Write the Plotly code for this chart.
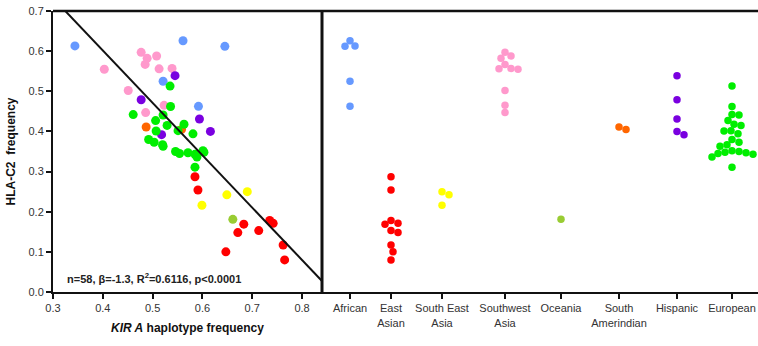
import numpy as np
import plotly.graph_objects as go

# ---------------- data ----------------
regions = ["African", "East Asian", "South East Asia", "Southwest Asia",
           "Oceania", "South Amerindian", "Hispanic", "European"]
region_labels = ["African", "East<br>Asian", "South East<br>Asia", "Southwest<br>Asia",
                 "Oceania", "South<br>Amerindian", "Hispanic", "European"]
region_colors = ["#6699FF", "#FF0000", "#FFFF00", "#FF99CC",
                 "#99CC33", "#FF6600", "#7A00E0", "#00EE00"]
# category centres on the right-hand axis (axis unit = 10 px)
region_pos = [2.8, 6.9, 12.0, 18.3, 23.9, 29.7, 35.5, 41.0]

kir_african = [0.561, 0.344, 0.645, 0.521, 0.592]
hla_african = [0.626, 0.613, 0.612, 0.525, 0.4625]

kir_east_asian = [0.585, 0.591, 0.735, 0.742, 0.683, 0.713, 0.671, 0.762, 0.647, 0.765]
hla_east_asian = [0.287, 0.254, 0.178, 0.171, 0.169, 0.153, 0.148, 0.117, 0.100, 0.080]

kir_se_asia = [0.649, 0.690, 0.599]
hla_se_asia = [0.242, 0.250, 0.216]

kir_sw_asia = [0.477, 0.489, 0.508, 0.485, 0.513, 0.539, 0.403, 0.451, 0.523, 0.486]
hla_sw_asia = [0.597, 0.582, 0.588, 0.567, 0.556, 0.557, 0.555, 0.502, 0.465, 0.447]

kir_oceania = [0.661]
hla_oceania = [0.181]

kir_s_amerindian = [0.487, 0.558]
hla_s_amerindian = [0.411, 0.405]

kir_hispanic = [0.545, 0.477, 0.594, 0.616, 0.518]
hla_hispanic = [0.539, 0.479, 0.431, 0.400, 0.392]

kir_european = [0.535, 0.536, 0.461, 0.521, 0.506, 0.563, 0.529, 0.551, 0.507, 0.581, 0.492,
                0.503, 0.520, 0.521, 0.546, 0.554, 0.571, 0.585, 0.601, 0.603, 0.589, 0.585]
hla_european = [0.513, 0.462, 0.442, 0.441, 0.427, 0.418, 0.415, 0.402, 0.401, 0.394, 0.380,
                0.373, 0.367, 0.363, 0.350, 0.345, 0.347, 0.343, 0.352, 0.348, 0.336, 0.311]

kir_all = [kir_african, kir_east_asian, kir_se_asia, kir_sw_asia,
           kir_oceania, kir_s_amerindian, kir_hispanic, kir_european]
hla_all = [hla_african, hla_east_asian, hla_se_asia, hla_sw_asia,
           hla_oceania, hla_s_amerindian, hla_hispanic, hla_european]

x_ticks = [0.3, 0.4, 0.5, 0.6, 0.7, 0.8]
y_ticks = [0.0, 0.1, 0.2, 0.3, 0.4, 0.5, 0.6, 0.7]

# ---------------- layout geometry ----------------
W, H = 758, 346
ML, MR, MT, MB = 53, 0, 11, 54
split_px = 322
plot_w = W - ML - MR
plot_h = H - MT - MB
split = (split_px - ML) / plot_w
y_range = [0, 0.7]
px_per_y = plot_h / (y_range[1] - y_range[0])
right_range = [0, (W - MR - split_px) / 10.0]  # 10 px per unit


def beeswarm(values, diam_px, y_scale, x_unit_px):
    """Return horizontal offsets (axis units) so dots do not overlap."""
    order = np.argsort(values)[::-1]
    placed = []
    offs = np.zeros(len(values))
    for i in order:
        yp = values[i] * y_scale
        step = 0
        while True:
            found = None
            for cand in ([0] if step == 0 else [step, -step]):
                ok = all((cand - px) ** 2 + (yp - py) ** 2 >= diam_px ** 2 for px, py in placed)
                if ok:
                    found = cand
                    break
            if found is not None:
                break
            step += 1
        placed.append((found, yp))
        offs[i] = found / x_unit_px
    return offs


fig = go.Figure()

# left panel scatter
for name, kx, hy, col in zip(regions, kir_all, hla_all, region_colors):
    fig.add_trace(go.Scatter(x=kx, y=hy, mode="markers", name=name,
                             marker=dict(size=9, color=col, line=dict(width=0)),
                             xaxis="x", yaxis="y", showlegend=False))

# regression line
all_k = np.concatenate([np.array(a) for a in kir_all])
all_h = np.concatenate([np.array(a) for a in hla_all])
slope, intercept = np.polyfit(all_k, all_h, 1)
lx = np.array([0.3, 0.84])
fig.add_trace(go.Scatter(x=lx, y=intercept + slope * lx, mode="lines",
                         line=dict(color="#111111", width=2),
                         xaxis="x", yaxis="y", showlegend=False, hoverinfo="skip"))

# right panel swarm
for name, pos, hy, col in zip(regions, region_pos, hla_all, region_colors):
    offs = beeswarm(np.array(hy), 7.0, px_per_y, 10.0)
    fig.add_trace(go.Scatter(x=pos + offs, y=hy, mode="markers", name=name,
                             marker=dict(size=7.5, color=col, line=dict(width=0)),
                             xaxis="x2", yaxis="y2", showlegend=False))

font_fam = "Arial, Liberation Sans, Helvetica, sans-serif"
tick_font = dict(family=font_fam, size=11, color="#333333")

fig.update_layout(
    width=W, height=H, autosize=False,
    margin=dict(l=ML, r=MR, t=MT, b=MB, autoexpand=False),
    paper_bgcolor="white", plot_bgcolor="white",
    showlegend=False,
    xaxis=dict(domain=[0, split], range=[0.3, 0.84], tickvals=x_ticks,
               ticktext=[f"{v:.1f}" for v in x_ticks], automargin=False,
               showgrid=False, zeroline=False, showline=True, linecolor="#111111",
               linewidth=2, ticks="outside", ticklen=5, tickwidth=1.5, tickcolor="#111111",
               tickfont=tick_font,
               title=dict(text="<b><i>KIR A</i> haplotype frequency</b>",
                          font=dict(family=font_fam, size=12, color="#111111"), standoff=10)),
    yaxis=dict(range=y_range, tickvals=y_ticks, ticktext=[f"{v:.1f}" for v in y_ticks],
               automargin=False,
               showgrid=False, zeroline=False, showline=True, linecolor="#111111",
               linewidth=2, ticks="outside", ticklen=5, tickwidth=1.5, tickcolor="#111111",
               tickfont=tick_font,
               title=dict(text="<b>HLA-C2  frequency</b>",
                          font=dict(family=font_fam, size=12, color="#111111"), standoff=10)),
    xaxis2=dict(domain=[split, 1], range=right_range, tickvals=region_pos,
                ticktext=region_labels, anchor="y2", automargin=False,
                showgrid=False, zeroline=False, showline=True, linecolor="#111111",
                linewidth=2, ticks="outside", ticklen=5, tickwidth=1.5, tickcolor="#111111",
                tickfont=tick_font),
    yaxis2=dict(range=y_range, anchor="x2", showgrid=False, zeroline=False, automargin=False,
                showline=False, showticklabels=False, ticks=""),
    shapes=[
        dict(type="line", xref="paper", yref="paper", x0=0, x1=1, y0=1, y1=1,
             line=dict(color="#111111", width=2.5)),
        dict(type="line", xref="paper", yref="paper", x0=split, x1=split, y0=0, y1=1,
             line=dict(color="#111111", width=3)),
    ],
    annotations=[
        dict(x=0.324, y=0.035, xref="x", yref="y", xanchor="left", yanchor="middle",
             showarrow=False,
             text="<b>n=58, β=-1.3, R<sup>2</sup>=0.6116, p&lt;0.0001</b>",
             font=dict(family=font_fam, size=11, color="#222222")),
    ],
)

fig.write_html("out.html", config={"displayModeBar": False},
               post_script="document.body.style.margin='0';document.body.style.overflow='hidden';")
